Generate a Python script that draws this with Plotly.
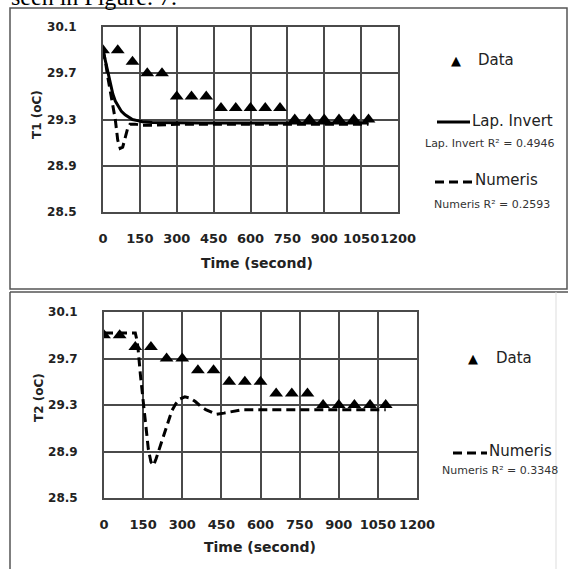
import plotly.graph_objects as go

# ---------------- data ----------------
time_data = [0, 60, 120, 180, 240, 300, 360, 420, 480, 540, 600, 660, 720, 780, 840, 900, 960, 1020, 1080]
t1_data = [29.9, 29.9, 29.8, 29.7, 29.7, 29.5, 29.5, 29.5, 29.4, 29.4, 29.4, 29.4, 29.4, 29.3, 29.3, 29.3, 29.3, 29.3, 29.3]
t2_data = [29.9, 29.9, 29.8, 29.8, 29.7, 29.7, 29.6, 29.6, 29.5, 29.5, 29.5, 29.4, 29.4, 29.4, 29.3, 29.3, 29.3, 29.3, 29.3]

lap_time = [0, 10, 20, 30, 40, 50, 60, 75, 90, 105, 120, 140, 160, 200, 300, 400, 500, 600, 700, 800, 900, 1000, 1080]
lap_t1 = [29.90, 29.80, 29.70, 29.60, 29.52, 29.46, 29.42, 29.37, 29.34, 29.32, 29.30, 29.29, 29.28, 29.275,
          29.27, 29.27, 29.27, 29.27, 29.27, 29.27, 29.27, 29.27, 29.27]

num1_time = [0, 10, 20, 30, 40, 50, 60, 70, 80, 90, 100, 110, 130, 160, 200, 300, 400, 500, 600, 700, 800, 900, 1000, 1080]
num1_t1 = [29.90, 29.80, 29.66, 29.53, 29.41, 29.30, 29.12, 29.05, 29.06, 29.14, 29.22, 29.26, 29.26, 29.25,
           29.25, 29.26, 29.26, 29.26, 29.26, 29.26, 29.26, 29.26, 29.26, 29.26]

num2_time = [0, 60, 120, 125, 130, 140, 150, 160, 170, 180, 190, 200, 210, 220, 230, 245, 260, 275, 290, 310,
             330, 350, 370, 390, 410, 430, 460, 480, 530, 600, 700, 800, 900, 1000, 1080]
num2_t2 = [29.92, 29.92, 29.92, 29.87, 29.80, 29.55, 29.32, 29.10, 28.92, 28.81, 28.78, 28.84, 28.91, 28.98,
           29.05, 29.16, 29.25, 29.31, 29.35, 29.37, 29.36, 29.33, 29.29, 29.26, 29.24, 29.22, 29.23, 29.24,
           29.26, 29.26, 29.26, 29.26, 29.26, 29.26, 29.26]

x_ticks = [0, 150, 300, 450, 600, 750, 900, 1050, 1200]
y_ticks = [28.5, 28.9, 29.3, 29.7, 30.1]

r2_lap_t1 = "0.4946"
r2_num_t1 = "0.2593"
r2_num_t2 = "0.3348"

# ---------------- layout helpers ----------------
W, H = 568, 569


def px(x):
    return x / W


def py(y):
    return 1 - y / H


GRID = "#4a4a4a"
TICKFONT_X = dict(family="DejaVu Sans", size=13, color="#222", weight="bold")
TICKFONT_Y = dict(family="DejaVu Sans", size=12, color="#222", weight="bold")
TITLEFONT = dict(family="DejaVu Sans", size=14, color="#222", weight="bold")
YTITLEFONT = dict(family="DejaVu Sans", size=12, color="#222", weight="bold")
LEGFONT = dict(family="DejaVu Sans", size=15, color="#222")
R2FONT = dict(family="DejaVu Sans", size=11, color="#333")

fig = go.Figure()

# top panel traces
fig.add_trace(go.Scatter(x=lap_time, y=lap_t1, mode="lines", line=dict(color="black", width=3),
                         xaxis="x", yaxis="y", name="Lap. Invert"))
fig.add_trace(go.Scatter(x=num1_time, y=num1_t1, mode="lines",
                         line=dict(color="black", width=3, dash="9px,5px"),
                         xaxis="x", yaxis="y", name="Numeris"))
fig.add_trace(go.Scatter(x=time_data, y=t1_data, mode="markers",
                         marker=dict(symbol="triangle-up", size=12, color="black"),
                         xaxis="x", yaxis="y", name="Data"))

# bottom panel traces
fig.add_trace(go.Scatter(x=num2_time, y=num2_t2, mode="lines",
                         line=dict(color="black", width=3, dash="9px,5px"),
                         xaxis="x2", yaxis="y2", name="Numeris"))
fig.add_trace(go.Scatter(x=time_data, y=t2_data, mode="markers",
                         marker=dict(symbol="triangle-up", size=12, color="black"),
                         xaxis="x2", yaxis="y2", name="Data"))

common_x = dict(range=[0, 1200], tickvals=x_ticks, ticktext=[str(v) for v in x_ticks], tickangle=0,
                showgrid=True, gridcolor=GRID, gridwidth=1.8, showline=True, mirror=True,
                linecolor=GRID, linewidth=1.8, zeroline=False, ticks="outside", ticklen=13,
                tickcolor="rgba(0,0,0,0)", tickfont=TICKFONT_X, fixedrange=True)
common_y = dict(range=[28.5, 30.1], tickvals=y_ticks, ticktext=[f"{v:.1f}" for v in y_ticks],
                showgrid=True, gridcolor=GRID, gridwidth=1.8, showline=True, mirror=True,
                linecolor=GRID, linewidth=1.8, zeroline=False, ticks="outside", ticklen=22,
                tickcolor="rgba(0,0,0,0)", tickfont=TICKFONT_Y, fixedrange=True)

fig.update_layout(
    width=W, height=H,
    margin=dict(l=0, r=0, t=0, b=0, autoexpand=False),
    paper_bgcolor="white", plot_bgcolor="white",
    showlegend=False,
    xaxis=dict(domain=[px(103), px(398)], anchor="y", **common_x),
    yaxis=dict(domain=[py(212), py(27)], anchor="x", **common_y),
    xaxis2=dict(domain=[px(104), px(417)], anchor="y2", **common_x),
    yaxis2=dict(domain=[py(498), py(312)], anchor="x2", **common_y),
)

shapes = []
# panel borders
shapes.append(dict(type="rect", xref="paper", yref="paper", x0=px(10), x1=px(567), y0=py(289), y1=py(8),
                   line=dict(color="#555", width=1.5), fillcolor="rgba(0,0,0,0)", layer="below"))
shapes.append(dict(type="line", xref="paper", yref="paper", x0=px(10), x1=px(10), y0=py(292), y1=py(575),
                   line=dict(color="#555", width=1.5)))
shapes.append(dict(type="line", xref="paper", yref="paper", x0=px(10), x1=px(568), y0=py(292), y1=py(292),
                   line=dict(color="#555", width=1.5)))
shapes.append(dict(type="line", xref="paper", yref="paper", x0=px(556), x1=px(556), y0=py(292), y1=py(575),
                   line=dict(color="#dddddd", width=1)))
# legend line samples
shapes.append(dict(type="line", xref="paper", yref="paper", x0=px(437), x1=px(470), y0=py(122), y1=py(122),
                   line=dict(color="black", width=3)))
shapes.append(dict(type="line", xref="paper", yref="paper", x0=px(435), x1=px(473), y0=py(182), y1=py(182),
                   line=dict(color="black", width=3, dash="9px,5px")))
shapes.append(dict(type="line", xref="paper", yref="paper", x0=px(453), x1=px(487), y0=py(453), y1=py(453),
                   line=dict(color="black", width=3, dash="9px,5px")))
fig.update_layout(shapes=shapes)

ann = []


def add_text(text, x, y, font, xanchor="center", yanchor="middle", angle=0):
    ann.append(dict(text=text, x=px(x), y=py(y), xref="paper", yref="paper", showarrow=False,
                    xanchor=xanchor, yanchor=yanchor, font=font, textangle=angle))


# cut-off caption text above the figure (as in the reference)
add_text("seen in Figure. 7.", 9, 12, dict(family="Liberation Serif", size=24, color="black"),
         xanchor="left", yanchor="bottom")

# axis titles
add_text("Time (second)", 257, 263, TITLEFONT)
add_text("T1 (oC)", 37, 115, YTITLEFONT, angle=-90)
add_text("Time (second)", 260, 547, TITLEFONT)
add_text("T2 (oC)", 39, 398, YTITLEFONT, angle=-90)

# top legend
add_text("▲", 456, 60, dict(family="DejaVu Sans", size=13, color="black"))
add_text("Data", 476, 60, LEGFONT, xanchor="left")
add_text("Lap. Invert", 470, 121, LEGFONT, xanchor="left")
add_text(f"Lap. Invert R² = {r2_lap_t1}", 489, 143, R2FONT)
add_text("Numeris", 473, 180, LEGFONT, xanchor="left")
add_text(f"Numeris R² = {r2_num_t1}", 492, 205, R2FONT)

# bottom legend
add_text("▲", 473, 358, dict(family="DejaVu Sans", size=13, color="black"))
add_text("Data", 494, 358, LEGFONT, xanchor="left")
add_text("Numeris", 487, 451, LEGFONT, xanchor="left")
add_text(f"Numeris R² = {r2_num_t2}", 500, 470, R2FONT)

fig.update_layout(annotations=ann)

fig.write_html("out.html")
